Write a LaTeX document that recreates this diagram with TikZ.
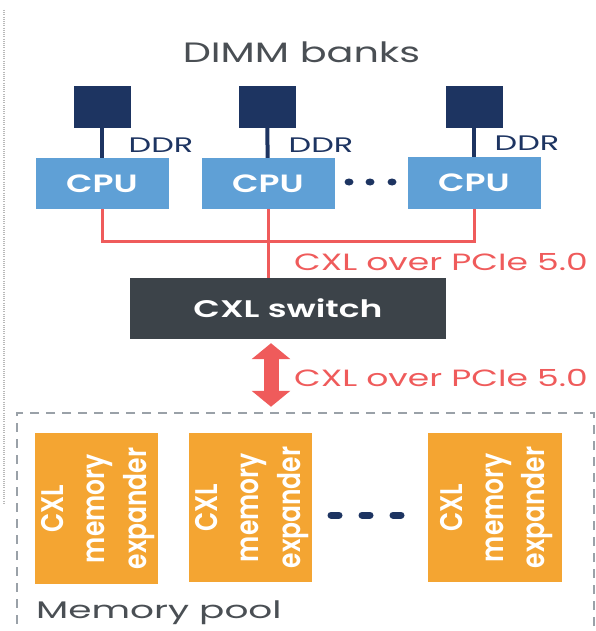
\documentclass[tikz,border=0pt]{standalone}
\usepackage{fontspec}
\setmainfont{Poppins}
\newfontfamily\titlefont[FakeStretch=1.42]{Poppins}
\newfontfamily\linkfont[FakeStretch=1.47]{Poppins}
\newfontfamily\ddrfont[FakeStretch=1.52]{Poppins}
\newfontfamily\poolfont[FakeStretch=1.56]{Poppins}
\newfontfamily\cpufont[FakeStretch=1.38]{Poppins SemiBold}
\newfontfamily\switchfont[FakeStretch=1.44]{Poppins SemiBold}
\newfontfamily\boxfont{Poppins SemiBold}
\usetikzlibrary{arrows.meta}
\definecolor{navy}{HTML}{1D3461}
\definecolor{cpublue}{HTML}{5FA0D6}
\definecolor{linkred}{HTML}{EF5B5B}
\definecolor{switchgray}{HTML}{3C4349}
\definecolor{memorange}{HTML}{F4A532}
\definecolor{poolgray}{HTML}{9AA1A8}
\definecolor{labelgray}{HTML}{4A4F54}
\begin{document}
\begin{tikzpicture}[x=1pt,y=-1pt,
  dimm/.style={fill=navy, minimum width=57pt, minimum height=42pt, inner sep=0pt},
  cpu/.style={fill=cpublue, text=white, minimum width=133pt, minimum height=51pt, inner sep=0pt,
    font=\cpufont\fontsize{25}{25}\selectfont},
  ddr/.style={anchor=base, text=navy, inner sep=0pt, font=\ddrfont\fontsize{21}{21}\selectfont},
  title/.style={anchor=base, text=labelgray, inner sep=0pt, font=\titlefont\fontsize{28}{28}\selectfont},
  link/.style={linkred, line width=3pt},
  linklabel/.style={anchor=base, text=linkred, inner sep=0pt, font=\linkfont\fontsize{23.5}{23.5}\selectfont},
  switchbox/.style={fill=switchgray, text=white, minimum width=316pt, minimum height=61pt, inner sep=0pt,
    font=\switchfont\fontsize{24}{24}\selectfont},
  expander/.style={rotate=90, fill=memorange, text=white, inner sep=0pt,
    font=\boxfont\fontsize{25}{33}\selectfont},
  pool/.style={draw=poolgray, line width=2.5pt, dash pattern=on 9pt off 7pt,
    minimum width=577pt, minimum height=260pt, inner sep=0pt},
  bigarrow/.style={linkred, line width=15pt,
    {Triangle[length=16pt,width=38pt]}-{Triangle[length=16pt,width=38pt]}},
]
\useasboundingbox (0,0) rectangle (595,631);
\clip (0,0) rectangle (595,631);

% side rule
\draw[gray!55, line width=1.5pt, dash pattern=on 1pt off 1.2pt] (4,10) -- (4,505);

% DIMM banks and CPUs
\node[title] (title) at (301.5,63) {DIMM banks};
\node[dimm] (d1) at (102,107) {};
\node[dimm] (d2) at (267,107) {};
\node[dimm] (d3) at (474,107) {};
\node[cpu] (c1) at (102,183.5) {CPU};
\node[cpu] (c2) at (268,183.5) {CPU};
\node[cpu] (c3) at (474,183) {CPU};
\foreach \i in {1,2,3} \draw[navy, line width=4pt] (d\i) -- (c\i);
\node[ddr] (ddr1) at (161,153) {DDR};
\node[ddr] (ddr2) at (321,153) {DDR};
\node[ddr] (ddr3) at (527,151) {DDR};
\foreach \x in {349,370,392} \fill[navy] (\x,182) ellipse (4.5pt and 3.5pt);

% CXL links to the switch
\node[switchbox] (sw) at (288,308.5) {CXL switch};
\coordinate (bus) at (268,241);
\draw[link] (c1.south) |- (bus) -| (c3.south);
\draw[link] (c2.south) -- (c2.south |- sw.north);
\node[linklabel] (l1) at (441,270) {CXL over PCIe 5.0};

% memory pool
\node[pool] (pool) at (305.5,543) {};
\coordinate (ax) at (271,0);
\draw[bigarrow, shorten <=4pt, shorten >=5pt] (sw.south -| ax) -- (pool.north -| ax);
\node[linklabel] (l2) at (441,386) {CXL over PCIe 5.0};

\node[expander, minimum width=151pt, minimum height=121pt] (e1) at (96.5,508.5)
  {\scalebox{1}[1.25]{\begin{tabular}{@{}c@{}}CXL\\memory\\expander\end{tabular}}};
\node[expander, minimum width=149pt, minimum height=121pt] (e2) at (250.5,507.5)
  {\scalebox{1}[1.25]{\begin{tabular}{@{}c@{}}CXL\\memory\\expander\end{tabular}}};
\node[expander, minimum width=149pt, minimum height=134pt] (e3) at (495,507.5)
  {\scalebox{1}[1.25]{\begin{tabular}{@{}c@{}}CXL\\memory\\expander\end{tabular}}};
\foreach \x in {335,366,397} \draw[navy, line width=7pt, line cap=round] (\x-4,515) -- (\x+4,515);

\node[anchor=base west, text=labelgray, inner sep=0pt, font=\poolfont\fontsize{24}{24}\selectfont]
  (pl) at (36,618) {Memory pool};
\end{tikzpicture}
\end{document}
